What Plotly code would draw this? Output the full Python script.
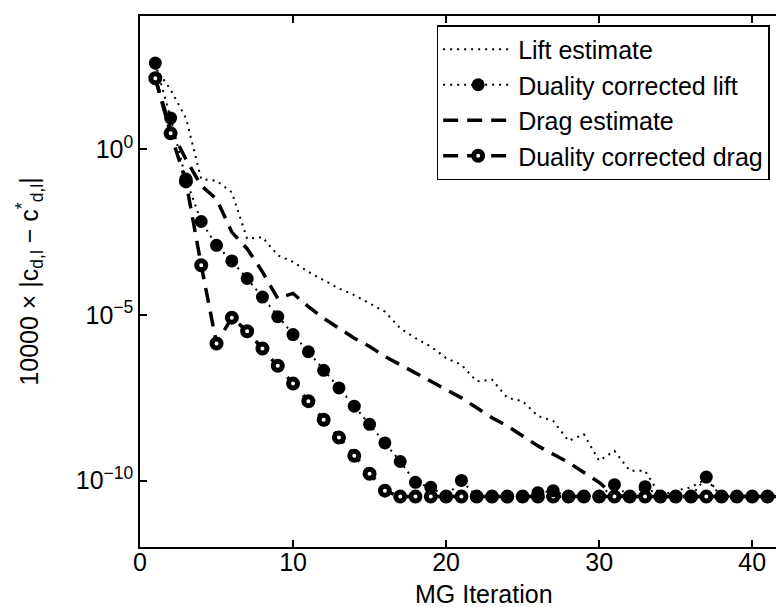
import plotly.graph_objects as go

iterations = list(range(1, 46))

# values as log10 exponents
lift_estimate_exp = [2.45, 1.8, 0.94, -0.9, -0.95, -1.3, -2.7, -2.65, -3.2, -3.4,
                     -3.7, -3.95, -4.2, -4.4, -4.65, -4.9, -5.4, -5.7, -5.95, -6.3,
                     -6.5, -7.0, -6.95, -7.5, -7.6, -8.05, -8.2, -8.8, -8.6, -9.4,
                     -9.1, -9.7, -9.7, -10.45, -10.3, -10.2, -9.95, -10.48, -10.48, -10.48,
                     -10.48, -10.48, -10.48, -10.48, -10.48]
lift_corrected_exp = [2.6, 0.94, -0.9, -2.18, -2.9, -3.37, -3.9, -4.46, -5.05, -5.59,
                      -6.11, -6.67, -7.2, -7.75, -8.3, -8.86, -9.42, -10.05, -10.2, -10.48,
                      -9.99, -10.48, -10.48, -10.48, -10.48, -10.36, -10.3, -10.48, -10.48, -10.48,
                      -10.12, -10.48, -10.18, -10.48, -10.48, -10.48, -9.89, -10.48, -10.48, -10.48,
                      -10.48, -10.48, -10.48, -10.48, -10.48]
drag_estimate_exp = [2.14, 0.6, -0.3, -1.1, -1.5, -2.5, -3.0, -3.7, -4.5, -4.35,
                     -4.75, -5.1, -5.4, -5.7, -5.95, -6.25, -6.5, -6.75, -7.0, -7.25,
                     -7.5, -7.8, -8.1, -8.35, -8.65, -8.95, -9.2, -9.45, -9.75, -10.05,
                     -10.45, -10.48, -10.48, -10.48, -10.48, -10.48, -10.48, -10.48, -10.48, -10.48,
                     -10.48, -10.48, -10.48, -10.48, -10.48]
drag_corrected_exp = [2.14, 0.48, -0.97, -3.5, -5.86, -5.08, -5.49, -6.01, -6.53, -7.07,
                      -7.6, -8.16, -8.7, -9.25, -9.79, -10.3, -10.48, -10.48, -10.48, -10.48,
                      -10.48, -10.48, -10.48, -10.48, -10.48, -10.48, -10.48, -10.48, -10.48, -10.48,
                      -10.48, -10.48, -10.48, -10.48, -10.48, -10.48, -10.48, -10.48, -10.48, -10.48,
                      -10.48, -10.48, -10.48, -10.48, -10.48]

series_names = ["Lift estimate", "Duality corrected lift", "Drag estimate", "Duality corrected drag"]
ytick_vals = [1e-10, 1e-5, 1e0]
ytick_text = ["10<sup>\u221210</sup>", "10<sup>\u22125</sup>", "10<sup>0</sup>"]
xtick_vals = [0, 10, 20, 30, 40]
x_title = "MG Iteration"
y_title = "10000 \u00d7 |c<sub>d,l</sub> \u2212 c<sup>*</sup><sub>d,l</sub>|"


def vals(exps):
    return [10 ** e for e in exps]


FONT = "Liberation Sans, Arial, Helvetica, sans-serif"
fig = go.Figure()

fig.add_trace(go.Scatter(
    x=iterations, y=vals(lift_estimate_exp), mode="lines", name=series_names[0],
    line=dict(color="black", width=2, dash="2px,5px"), legendrank=1))
fig.add_trace(go.Scatter(
    x=iterations, y=vals(drag_estimate_exp), mode="lines", name=series_names[2],
    line=dict(color="black", width=3.5, dash="15px,9px"), legendrank=3))
fig.add_trace(go.Scatter(
    x=iterations, y=vals(drag_corrected_exp), mode="lines+markers", name=series_names[3],
    line=dict(color="black", width=3.5, dash="15px,9px"),
    marker=dict(symbol="circle", size=9, color="white", line=dict(color="black", width=5)),
    legendrank=4))
fig.add_trace(go.Scatter(
    x=iterations, y=vals(lift_corrected_exp), mode="lines+markers", name=series_names[1],
    line=dict(color="black", width=2, dash="2px,5px"),
    marker=dict(symbol="circle", size=13, color="black"), legendrank=2))

fig.add_annotation(
    x=22.5, xref="x", y=-0.088, yref="paper", text=x_title, showarrow=False,
    xanchor="center", yanchor="middle", font=dict(family=FONT, size=25, color="black"))

fig.update_layout(
    width=784, height=607,
    margin=dict(l=132, r=0, t=8, b=68),
    plot_bgcolor="white", paper_bgcolor="white",
    font=dict(family=FONT, size=25, color="black"),
    showlegend=True,
    legend=dict(
        x=0.455, y=0.983, xanchor="left", yanchor="top",
        bgcolor="white", bordercolor="black", borderwidth=1.5,
        font=dict(family=FONT, size=25, color="black"),
        itemwidth=70, tracegroupgap=0,
    ),
    xaxis=dict(
        range=[0, 42.6], tickvals=xtick_vals, ticks="inside", ticklen=7,
        tickwidth=1.5, tickcolor="black",
        showline=True, linecolor="black", linewidth=1.5, mirror="ticks",
        showgrid=False, zeroline=False, ticklabelstandoff=-8,
        tickfont=dict(family=FONT, size=25),
    ),
    yaxis=dict(
        type="log", range=[-12, 4.02], tickvals=ytick_vals, ticktext=ytick_text,
        ticks="inside", ticklen=7, tickwidth=1.5, tickcolor="black",
        showline=True, linecolor="black", linewidth=1.5, mirror=False,
        showgrid=False, zeroline=False,
        tickfont=dict(family=FONT, size=25),
        title=dict(text=y_title, font=dict(family=FONT, size=25), standoff=30),
    ),
)

fig.write_html("out.html")
